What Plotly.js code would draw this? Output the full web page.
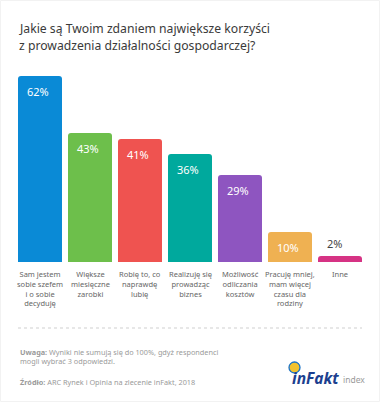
<!DOCTYPE html>
<html>
<head>
<meta charset="utf-8">
<script src="https://cdn.plot.ly/plotly-3.0.1.min.js"></script>
<style>html,body{margin:0;padding:0;background:#fff;}#chart{width:380px;height:402px;}</style>
</head>
<body>
<div id="chart"></div>
<script>
const categories = [
  "Sam jestem<br>sobie szefem<br>i o sobie<br>decyduję",
  "Większe<br>miesięczne<br>zarobki",
  "Robię to, co<br>naprawdę<br>lubię",
  "Realizuję się<br>prowadząc<br>biznes",
  "Możliwość<br>odliczania<br>kosztów",
  "Pracuję mniej,<br>mam więcej<br>czasu dla<br>rodziny",
  "Inne"
];
const values = [62, 43, 41, 36, 29, 10, 2];
const valueLabels = ["62%", "43%", "41%", "36%", "29%", "10%", "2%"];
const barColors = ["#0a8ad6", "#6dbf4b", "#ef5350", "#00a99d", "#8e55c0", "#efb152", "#d63384"];
const titleLines = ["Jakie są Twoim zdaniem największe korzyści", "z prowadzenia działalności gospodarczej?"];

const FONT = "Noto Sans, Open Sans, sans-serif";
const TFONT = "Noto Sans, Open Sans, sans-serif";
const xs = categories.map((c, i) => i);

const annotations = [];
values.forEach((v, i) => {
  const inside = v >= 5;
  annotations.push({
    x: i, y: v, xref: "x", yref: "y",
    text: valueLabels[i], showarrow: false,
    xanchor: "left", yanchor: inside ? "top" : "bottom",
    xshift: -15, yshift: inside ? -6 : 3,
    font: {family: FONT, size: 11, color: inside ? "#ffffff" : "#444444"}
  });
  annotations.push({
    x: i, y: 0, xref: "x", yref: "y",
    text: categories[i], showarrow: false,
    xanchor: "center", yanchor: "top", yshift: -5,
    align: "center",
    font: {family: FONT, size: 7.5, color: "#666666"}
  });
});

// pixel -> paper helpers (plot area: x 0..380, y 76..262)
const px = p => p / 380;
const py = p => (262 - p) / 186;

titleLines.forEach((t, k) => {
  annotations.push({xref: "paper", yref: "paper", x: px(17), y: py(28 + 18 * k), xanchor: "left", yanchor: "middle",
    showarrow: false, text: t, font: {family: TFONT, size: 12.2, color: "#3a3a3a"}});
});

annotations.push(
  {xref: "paper", yref: "paper", x: px(18), y: py(345), xanchor: "left", yanchor: "top", align: "left", showarrow: false,
   text: "<b>Uwaga:</b> Wyniki nie sumują się do 100%, gdyż respondenci<br>mogli wybrać 3 odpowiedzi.",
   font: {family: FONT, size: 7.3, color: "#9a9a9a"}},
  {xref: "paper", yref: "paper", x: px(18), y: py(375), xanchor: "left", yanchor: "top", align: "left", showarrow: false,
   text: "<b>Źródło:</b> ARC Rynek i Opinia na zlecenie inFakt, 2018",
   font: {family: FONT, size: 7.3, color: "#9a9a9a"}},
  {xref: "paper", yref: "paper", x: px(290), y: py(378), xanchor: "left", yanchor: "middle", showarrow: false,
   text: "<b><i>inFakt</i></b>",
   font: {family: FONT, size: 15.5, color: "#1c3f8f"}},
  {xref: "paper", yref: "paper", x: px(341), y: py(379), xanchor: "left", yanchor: "middle", showarrow: false,
   text: "index",
   font: {family: FONT, size: 8.5, color: "#9a9a9a"}}
);

const shapes = [
  {type: "line", xref: "paper", yref: "paper", x0: px(18), x1: px(362), y0: py(328), y1: py(328),
   line: {color: "#cfcfcf", width: 1, dash: "dot"}},
  {type: "circle", xref: "paper", yref: "paper", x0: px(289), x1: px(300), y0: py(373), y1: py(362),
   fillcolor: "#f2c230", line: {color: "#1a73c9", width: 1.3}},
  {type: "path", xref: "paper", yref: "paper",
   path: `M ${px(294.5)} ${py(367.5)} L ${px(294.5)} ${py(362.6)} A 0.0145 0.0296 0 0 1 ${px(299.4)} ${py(367.5)} Z`,
   fillcolor: "#7cc242", line: {width: 0}},
  {type: "rect", xref: "paper", yref: "paper", x0: px(0.5), x1: px(379.5), y0: py(0.5), y1: py(401.5),
   fillcolor: "rgba(0,0,0,0)", line: {color: "#f2f2f2", width: 1}}
];

const trace = {
  type: "bar", x: xs, y: values,
  marker: {color: barColors, line: {width: 0}},
  width: 0.88, hoverinfo: "none", textposition: "none"
};

const layout = {
  width: 380, height: 402,
  margin: {l: 0, r: 0, t: 76, b: 140},
  paper_bgcolor: "#ffffff", plot_bgcolor: "#ffffff",
  barcornerradius: 3,
  showlegend: false,
  xaxis: {range: [-0.8, 6.8], showgrid: false, zeroline: false, showticklabels: false, showline: false, fixedrange: true},
  yaxis: {range: [0, 62], showgrid: false, zeroline: false, showticklabels: false, showline: false, fixedrange: true},
  annotations: annotations,
  shapes: shapes
};

Plotly.newPlot("chart", [trace], layout, {staticPlot: true, displayModeBar: false});
</script>
</body>
</html>
